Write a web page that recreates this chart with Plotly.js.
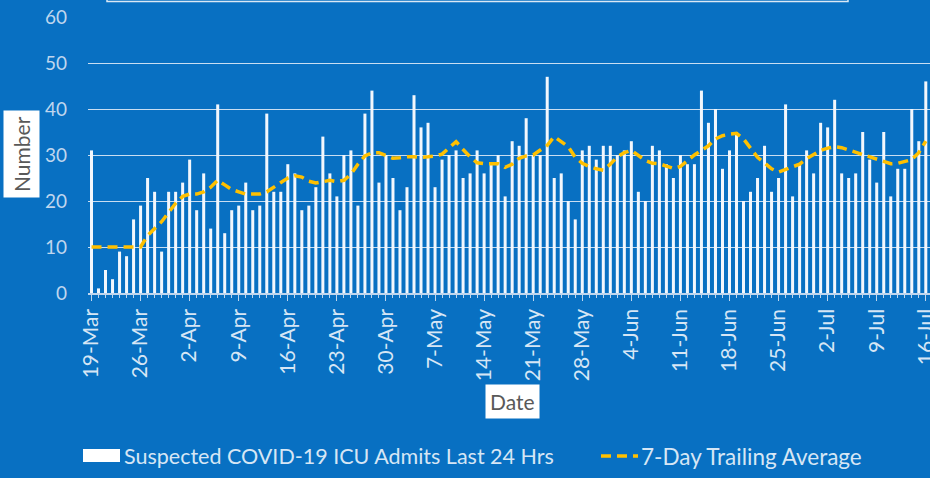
<!DOCTYPE html>
<html>
<head>
<meta charset="utf-8">
<script src="https://cdn.plot.ly/plotly-3.0.1.min.js"></script>
<style>
html,body{margin:0;padding:0;background:#0870C2;}
#chart{width:930px;height:478px;}
</style>
</head>
<body>
<div id="chart"></div>
<script>
// ---- data ----
const startDate = '2020-03-19';
const admits = [31,1,5,3,9,8,16,19,25,22,9,22,22,24,29,18,26,14,41,13,
  18,19,24,18,19,39,22,22,28,26,18,19,23,34,26,21,30,31,19,39,
  44,24,30,25,18,23,43,36,37,23,29,30,31,25,26,31,26,28,30,21,
  33,32,38,30,30,47,25,26,20,16,31,32,29,32,32,30,31,33,22,20,
  32,31,28,25,30,28,28,44,37,40,27,31,35,20,22,25,32,22,25,41,
  21,28,31,26,37,36,42,26,25,26,35,29,24,35,21,27,27,40,33,46];
const trailingAvg = [10,10,10,10,10,10,10,10,12.5,14,15.5,17.5,19.5,21,21.5,21.5,22,23,24.5,23.5,
  22.5,22,21.5,21.5,21.5,22,23,24,25,25.5,25.2,24.3,23.9,24.2,24.5,24.2,24.5,25.8,28,29.8,
  30.5,30.5,30,29.3,29.4,29.6,29.6,29.5,29.6,29.8,30.2,31.5,32.9,31.2,29.6,28.3,28.1,28.1,28.1,27.3,
  28,29.3,29.8,30,31,32.1,34,33,31.8,29.5,28.2,27.5,27,26.7,28,29.6,30.5,31,29.8,28.8,
  28.2,28.1,27.6,27.1,27.5,28.8,30,31,32,33.5,34.2,34.5,34.7,33.5,31.4,29.5,28.3,27,26.3,26.8,
  27.3,28,29.2,30.2,31,31.5,31.8,31.6,31.1,30.6,30,29.5,28.9,28.4,28.1,28.2,28.6,29,30.5,33];
const tickLabels = ['19-Mar','26-Mar','2-Apr','9-Apr','16-Apr','23-Apr','30-Apr','7-May','14-May',
  '21-May','28-May','4-Jun','11-Jun','18-Jun','25-Jun','2-Jul','9-Jul','16-Jul'];
const seriesNames = ['Suspected COVID-19 ICU Admits Last 24 Hrs','7-Day Trailing Average'];
const yTitle = 'Number';
const xTitle = 'Date';

// consecutive calendar dates for the categories
const DAY = 86400000;
const t0 = Date.parse(startDate + 'T00:00:00Z');
function iso(ms){ return new Date(ms).toISOString().slice(0,10); }
function isoFull(ms){ return new Date(ms).toISOString().replace('T',' ').slice(0,19); }
const dates = admits.map((_, i) => iso(t0 + i*DAY));
const tickVals = tickLabels.map((_, i) => iso(t0 + i*7*DAY));

// ---- layout helpers (pixel -> paper) ----
const W = 930, H = 478, L = 88, R = 0, T = 17, B = 185;
const pw = W - L - R, ph = H - T - B;
const px = x => (x - L) / pw;
const py = y => (H - B - y) / ph;

const FONT = 'Lato, "Open Sans", sans-serif';
const light = '#D6E6F5';

const traces = [
  {
    type: 'bar', x: dates, y: admits, name: seriesNames[0],
    marker: {color: '#F2F7FD', line: {width: 0}},
    width: 0.43*DAY, showlegend: false
  },
  {
    type: 'scatter', mode: 'lines', x: dates, y: trailingAvg, name: seriesNames[1],
    line: {color: '#FFC000', width: 3.5, dash: '10px,6px'}, showlegend: false
  }
];

const layout = {
  width: W, height: H,
  margin: {l: L, r: R, t: T, b: B, pad: 0},
  paper_bgcolor: '#0870C2', plot_bgcolor: '#0870C2',
  font: {family: FONT, color: light},
  showlegend: false,
  xaxis: {
    type: 'date',
    range: [isoFull(t0 - 0.5*DAY), isoFull(t0 + 119.6*DAY)],
    tickmode: 'array', tickvals: tickVals, ticktext: tickLabels,
    tickangle: -90, tickfont: {family: FONT, size: 21, color: light},
    ticklabeloverflow: 'allow',
    ticks: 'outside', ticklen: 6, tickcolor: '#BFD6EE', tickwidth: 1,
    minor: {ticks: 'outside', dtick: DAY, tick0: iso(t0), ticklen: 3, tickcolor: '#BFD6EE', showgrid: false},
    showline: true, linecolor: '#BFD6EE', linewidth: 1.5,
    showgrid: false, zeroline: false, fixedrange: true
  },
  yaxis: {
    range: [0, 60], dtick: 10, tick0: 0,
    tickfont: {family: FONT, size: 19, color: '#BFD6EE'},
    ticklabelstandoff: 20,
    showgrid: true, gridcolor: '#C9DEF2', gridwidth: 1,
    zeroline: false, showline: false, fixedrange: true
  },
  annotations: [
    {xref: 'paper', yref: 'paper', x: px(21), y: py(154), text: yTitle, textangle: -90,
     showarrow: false, bgcolor: '#FFFFFF', borderpad: 5,
     font: {family: FONT, size: 21, color: '#595959'}, xanchor: 'center', yanchor: 'middle'},
    {xref: 'paper', yref: 'paper', x: px(512), y: py(401), text: xTitle,
     showarrow: false, bgcolor: '#FFFFFF', borderpad: 4,
     font: {family: FONT, size: 21, color: '#595959'}, xanchor: 'center', yanchor: 'middle'},
    {xref: 'paper', yref: 'paper', x: px(122), y: py(456), text: seriesNames[0],
     showarrow: false, xanchor: 'left', yanchor: 'middle',
     font: {family: FONT, size: 21.5, color: light}},
    {xref: 'paper', yref: 'paper', x: px(639), y: py(456), text: seriesNames[1],
     showarrow: false, xanchor: 'left', yanchor: 'middle',
     font: {family: FONT, size: 22.5, color: light}}
  ],
  shapes: [
    {type: 'rect', xref: 'paper', yref: 'paper', x0: px(83), x1: px(120), y0: py(462), y1: py(449),
     fillcolor: '#FFFFFF', line: {width: 0}},
    {type: 'line', xref: 'paper', yref: 'paper', x0: px(601), x1: px(638), y0: py(456), y1: py(456),
     line: {color: '#FFC000', width: 3.5, dash: '10px,6px'}},
    {type: 'rect', xref: 'paper', yref: 'paper', x0: px(107), x1: px(848), y0: py(1.5), y1: py(-20),
     fillcolor: 'rgba(0,0,0,0)', line: {color: '#D9E8F5', width: 1.5}}
  ]
};

Plotly.newPlot('chart', traces, layout, {staticPlot: true, displayModeBar: false});
</script>
</body>
</html>
